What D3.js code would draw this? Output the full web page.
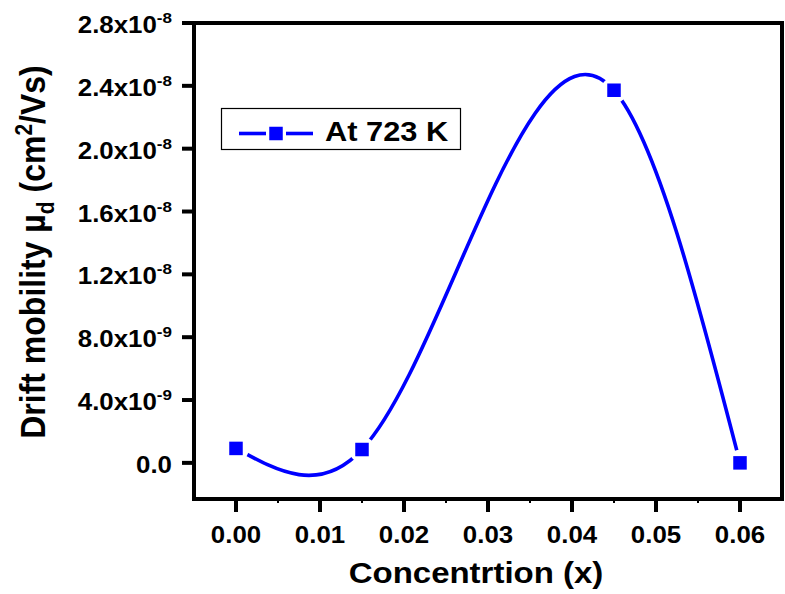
<!DOCTYPE html>
<meta charset="utf-8">
<script src="https://d3js.org/d3.v7.min.js"></script>
<style>
  body { margin: 0; background: #fff; }
  text { font-family: "Liberation Sans", Arial, sans-serif; font-weight: bold; fill: #000; }
</style>
<div id="chart"></div>
<script>
// data
const concentration = [0.0, 0.015, 0.045, 0.06];
const mobility = [0.92e-9, 0.85e-9, 2.372e-8, 0.0];
const seriesName = "At 723 K";

const xTicks = [0.00, 0.01, 0.02, 0.03, 0.04, 0.05, 0.06];
const xMinorTicks = [0.005, 0.015, 0.025, 0.035, 0.045, 0.055];
const yTicks = [0, 4e-9, 8e-9, 1.2e-8, 1.6e-8, 2.0e-8, 2.4e-8, 2.8e-8];

const W = 785, H = 594;
const plotL = 194, plotR = 782, plotT = 23, plotB = 499;
const stretch = 1.1; // text in the reference is slightly wide
const blue = "#0000ff";

const svg = d3.select("#chart").append("svg")
    .attr("width", W).attr("height", H);

const x = d3.scaleLinear().domain([-0.005, 0.065]).range([plotL, plotR]);
const y = d3.scaleLinear().domain([-2.3e-9, 2.8e-8]).range([plotB, plotT]);

// natural cubic spline in x (like Origin's spline connection)
function NaturalX(context) { this._context = context; }
NaturalX.prototype = {
  areaStart() {}, areaEnd() {},
  lineStart() { this._x = []; this._y = []; },
  point(px, py) { this._x.push(+px); this._y.push(+py); },
  lineEnd() {
    const xs = this._x, ys = this._y, n = xs.length, c = this._context;
    if (!n) return;
    c.moveTo(xs[0], ys[0]);
    if (n < 3) { for (let i = 1; i < n; i++) c.lineTo(xs[i], ys[i]); return; }
    const h = d3.range(n - 1).map(i => xs[i + 1] - xs[i]);
    const M = new Array(n).fill(0);
    // Thomas algorithm on the inner knots
    const a = [], b = [], cc = [], r = [];
    for (let i = 1; i < n - 1; i++) {
      a.push(h[i - 1]); b.push(2 * (h[i - 1] + h[i])); cc.push(h[i]);
      r.push(6 * ((ys[i + 1] - ys[i]) / h[i] - (ys[i] - ys[i - 1]) / h[i - 1]));
    }
    const m = b.length;
    for (let i = 1; i < m; i++) {
      const w = a[i] / b[i - 1];
      b[i] -= w * cc[i - 1];
      r[i] -= w * r[i - 1];
    }
    const sol = new Array(m);
    sol[m - 1] = r[m - 1] / b[m - 1];
    for (let i = m - 2; i >= 0; i--) sol[i] = (r[i] - cc[i] * sol[i + 1]) / b[i];
    for (let i = 0; i < m; i++) M[i + 1] = sol[i];
    for (let i = 0; i < n - 1; i++) {
      const hh = h[i], s = (ys[i + 1] - ys[i]) / hh;
      const d0 = s - hh * (2 * M[i] + M[i + 1]) / 6;
      const d1 = s + hh * (M[i] + 2 * M[i + 1]) / 6;
      c.bezierCurveTo(xs[i] + hh / 3, ys[i] + d0 * hh / 3,
                      xs[i + 1] - hh / 3, ys[i + 1] - d1 * hh / 3,
                      xs[i + 1], ys[i + 1]);
    }
  }
};
const curveNaturalX = context => new NaturalX(context);

const points = concentration.map((c, i) => ({ c: c, v: mobility[i] }));

// spline
const line = d3.line().x(d => x(d.c)).y(d => y(d.v)).curve(curveNaturalX);
svg.append("path")
    .datum(points)
    .attr("d", line)
    .attr("fill", "none")
    .attr("stroke", blue)
    .attr("stroke-width", 3.6);

// gap between line and symbols
svg.selectAll(".gap")
    .data(points)
    .join("circle")
    .attr("class", "gap")
    .attr("cx", d => x(d.c))
    .attr("cy", d => y(d.v))
    .attr("r", 13)
    .attr("fill", "#fff");

const ms = 13.5;
svg.selectAll(".marker")
    .data(points)
    .join("rect")
    .attr("class", "marker")
    .attr("x", d => x(d.c) - ms / 2)
    .attr("y", d => y(d.v) - ms / 2)
    .attr("width", ms).attr("height", ms)
    .attr("fill", blue);

// frame and axes
const ax = svg.append("g").attr("stroke", "#000").attr("stroke-width", 4).attr("fill", "none");
ax.append("rect")
    .attr("x", plotL).attr("y", plotT)
    .attr("width", plotR - plotL).attr("height", plotB - plotT);

// bottom major ticks
ax.selectAll(".xt").data(xTicks).join("line")
    .attr("x1", d => x(d)).attr("x2", d => x(d))
    .attr("y1", plotB).attr("y2", plotB + 13);
// minor ticks
ax.selectAll(".xm").data(xMinorTicks).join("line")
    .attr("stroke-width", 2)
    .attr("x1", d => x(d)).attr("x2", d => x(d))
    .attr("y1", plotB).attr("y2", plotB + 4);
// left ticks
ax.selectAll(".yt").data(yTicks).join("line")
    .attr("x1", plotL - 12).attr("x2", plotL)
    .attr("y1", d => y(d)).attr("y2", d => y(d));

// x tick labels
svg.selectAll(".xl").data(xTicks).join("text")
    .attr("transform", d => `translate(${x(d)},${plotB + 44}) scale(${stretch},1)`)
    .attr("text-anchor", "middle")
    .style("font-size", "23.5px")
    .text(d => d3.format(".2f")(d));

// y tick labels, scientific form "m.mx10^e"
const yl = svg.selectAll(".yl").data(yTicks).join("text")
    .attr("transform", d => `translate(${plotL - 22},${y(d) + 10}) scale(${stretch},1)`)
    .attr("text-anchor", "end")
    .style("font-size", "23.5px");
yl.each(function (d) {
  const t = d3.select(this);
  if (d === 0) { t.text("0.0"); return; }
  const e = Math.floor(Math.log10(d) + 1e-9);
  const m = d / Math.pow(10, e);
  t.append("tspan").text(m.toFixed(1) + "x10");
  t.append("tspan").attr("dy", -10).style("font-size", "15.5px").text("-" + Math.abs(e));
});

// axis titles
svg.append("text")
    .attr("transform", `translate(476,583) scale(${stretch},1)`)
    .attr("text-anchor", "middle")
    .style("font-size", "30px")
    .text("Concentrtion (x)");

const yt = svg.append("text")
    .attr("transform", `translate(45,252) scale(${stretch},1) rotate(-90)`)
    .attr("text-anchor", "middle")
    .style("font-size", "32px");
yt.append("tspan").text("Drift mobility \u00b5");
yt.append("tspan").attr("dy", 8).style("font-size", "21px").text("d");
yt.append("tspan").attr("dy", -8).text(" (cm");
yt.append("tspan").attr("dy", -12).style("font-size", "21px").text("2");
yt.append("tspan").attr("dy", 12).text("/Vs)");

// legend
const lg = svg.append("g");
lg.append("rect")
    .attr("x", 221.5).attr("y", 108.5).attr("width", 239).attr("height", 41)
    .attr("fill", "#fff").attr("stroke", "#000").attr("stroke-width", 1.2);
const lx = 276, ly = 133.5;
lg.append("line").attr("x1", lx - 37).attr("x2", lx - 10).attr("y1", ly).attr("y2", ly)
    .attr("stroke", blue).attr("stroke-width", 3.6);
lg.append("line").attr("x1", lx + 10).attr("x2", lx + 37).attr("y1", ly).attr("y2", ly)
    .attr("stroke", blue).attr("stroke-width", 3.6);
lg.append("rect").attr("x", lx - ms / 2).attr("y", ly - ms / 2)
    .attr("width", ms).attr("height", ms).attr("fill", blue);
lg.append("text")
    .attr("transform", `translate(325,141) scale(${stretch},1)`)
    .style("font-size", "28px")
    .text(seriesName);
</script>
